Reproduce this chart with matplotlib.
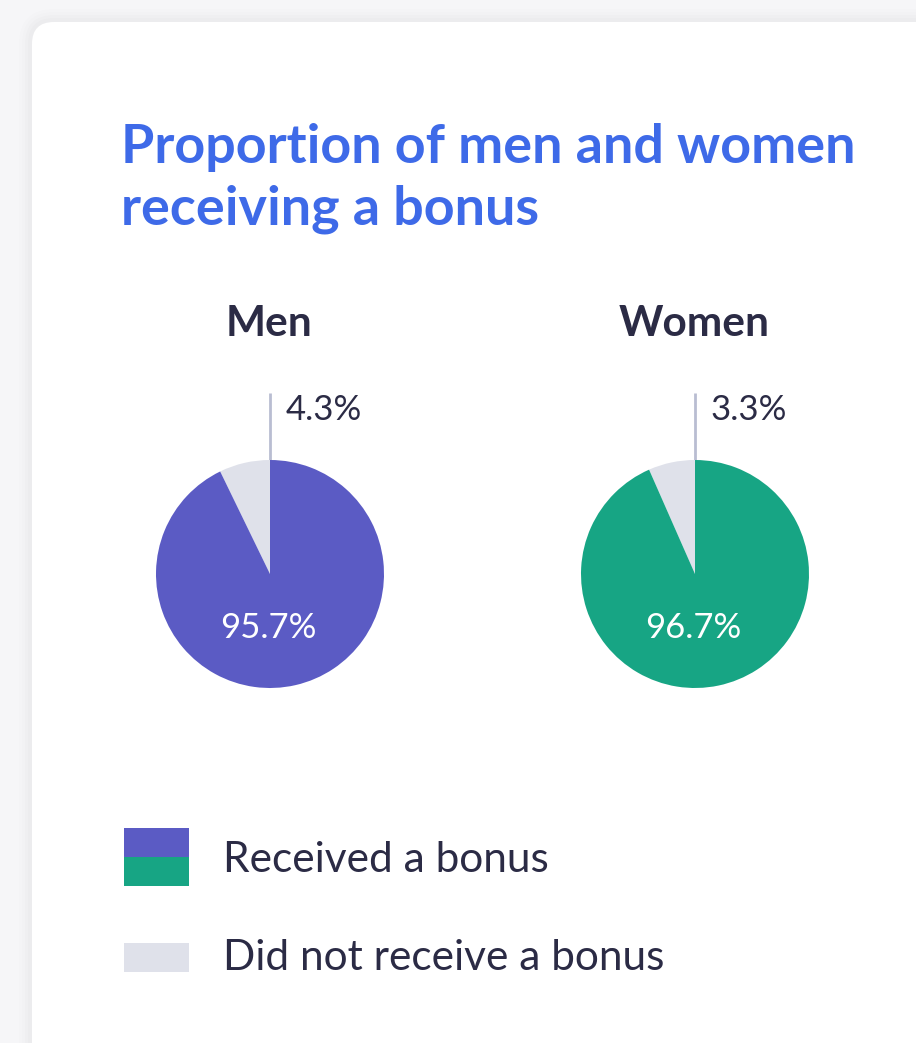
import matplotlib

matplotlib.use("Agg")
import matplotlib.pyplot as plt
from matplotlib.patches import FancyBboxPatch, Rectangle

plt.rcParams["font.family"] = ["Lato", "DejaVu Sans"]

# data
groups = ["Men", "Women"]
received_labels = ["95.7%", "96.7%"]
not_received_labels = ["4.3%", "3.3%"]
# shares as the slices are actually drawn in the reference
not_received_drawn = [7.2, 6.6]
legend_labels = ["Received a bonus", "Did not receive a bonus"]
title_lines = ["Proportion of men and women", "receiving a bonus"]

W, H = 916, 1043
BG = "#f6f6f8"
TITLE_BLUE = "#3e6ae8"
DARK = "#2b2b45"
GREY = "#dfe1ea"
LEADER = "#b9bdd2"
group_colors = ["#5b5bc4", "#17a584"]

fig = plt.figure(figsize=(W / 100, H / 100), dpi=100)
fig.patch.set_facecolor(BG)

bg = fig.add_axes([0, 0, 1, 1])
bg.set_xlim(0, W)
bg.set_ylim(H, 0)
bg.axis("off")

# card with a soft shadow
for i, a in enumerate([0.012, 0.010, 0.008, 0.006]):
    pad = 4 + i * 3
    bg.add_patch(FancyBboxPatch((32 - pad, 22 - pad), 1000 + 2 * pad, 1060 + 2 * pad,
                                boxstyle="round,pad=0,rounding_size=%d" % (22 + pad),
                                fc="#000000", ec="none", alpha=a, zorder=1))
bg.add_patch(FancyBboxPatch((32, 22), 1000, 1060,
                            boxstyle="round,pad=0,rounding_size=22",
                            fc="white", ec="none", zorder=2))

for line, base in zip(title_lines, [163, 225]):
    bg.text(121, base, line, fontsize=38.8, fontweight="bold", color=TITLE_BLUE,
            va="baseline", ha="left", zorder=3)

centers_x = [270, 695]
center_y = 574
radius = 114

for i, g in enumerate(groups):
    cx = centers_x[i]
    bg.text(cx - 1, 336, g, fontsize=30.5, fontweight="bold", color=DARK,
            ha="center", va="baseline", zorder=3)

    side = radius * 2.5
    ax = fig.add_axes([(cx - side / 2) / W, (H - center_y - side / 2) / H,
                       side / W, side / H])
    ax.pie([not_received_drawn[i], 100 - not_received_drawn[i]],
           colors=[GREY, group_colors[i]], startangle=90, counterclock=True,
           wedgeprops=dict(linewidth=0))

    # leader line and small-share label
    bg.plot([cx, cx], [center_y - radius, 393], color=LEADER, lw=2, zorder=3,
            solid_capstyle="butt")
    bg.text(cx + 16, 420, not_received_labels[i], fontsize=25, color=DARK,
            ha="left", va="baseline", zorder=3)

# overlay for labels sitting on top of the pies
over = fig.add_axes([0, 0, 1, 1])
over.set_xlim(0, W)
over.set_ylim(H, 0)
over.axis("off")
for i, cx in enumerate(centers_x):
    over.text(cx - 2, 638, received_labels[i], fontsize=25, color="white",
              ha="center", va="baseline")

# legend
over.add_patch(Rectangle((124, 828), 65, 29, fc=group_colors[0], ec="none"))
over.add_patch(Rectangle((124, 857), 65, 29, fc=group_colors[1], ec="none"))
over.add_patch(Rectangle((124, 943), 65, 29, fc=GREY, ec="none"))
over.text(223, 872, legend_labels[0], fontsize=30.5, color=DARK, ha="left", va="baseline")
over.text(223, 970, legend_labels[1], fontsize=30.5, color=DARK, ha="left", va="baseline")

fig.savefig("out.png", dpi=100, facecolor=BG)
